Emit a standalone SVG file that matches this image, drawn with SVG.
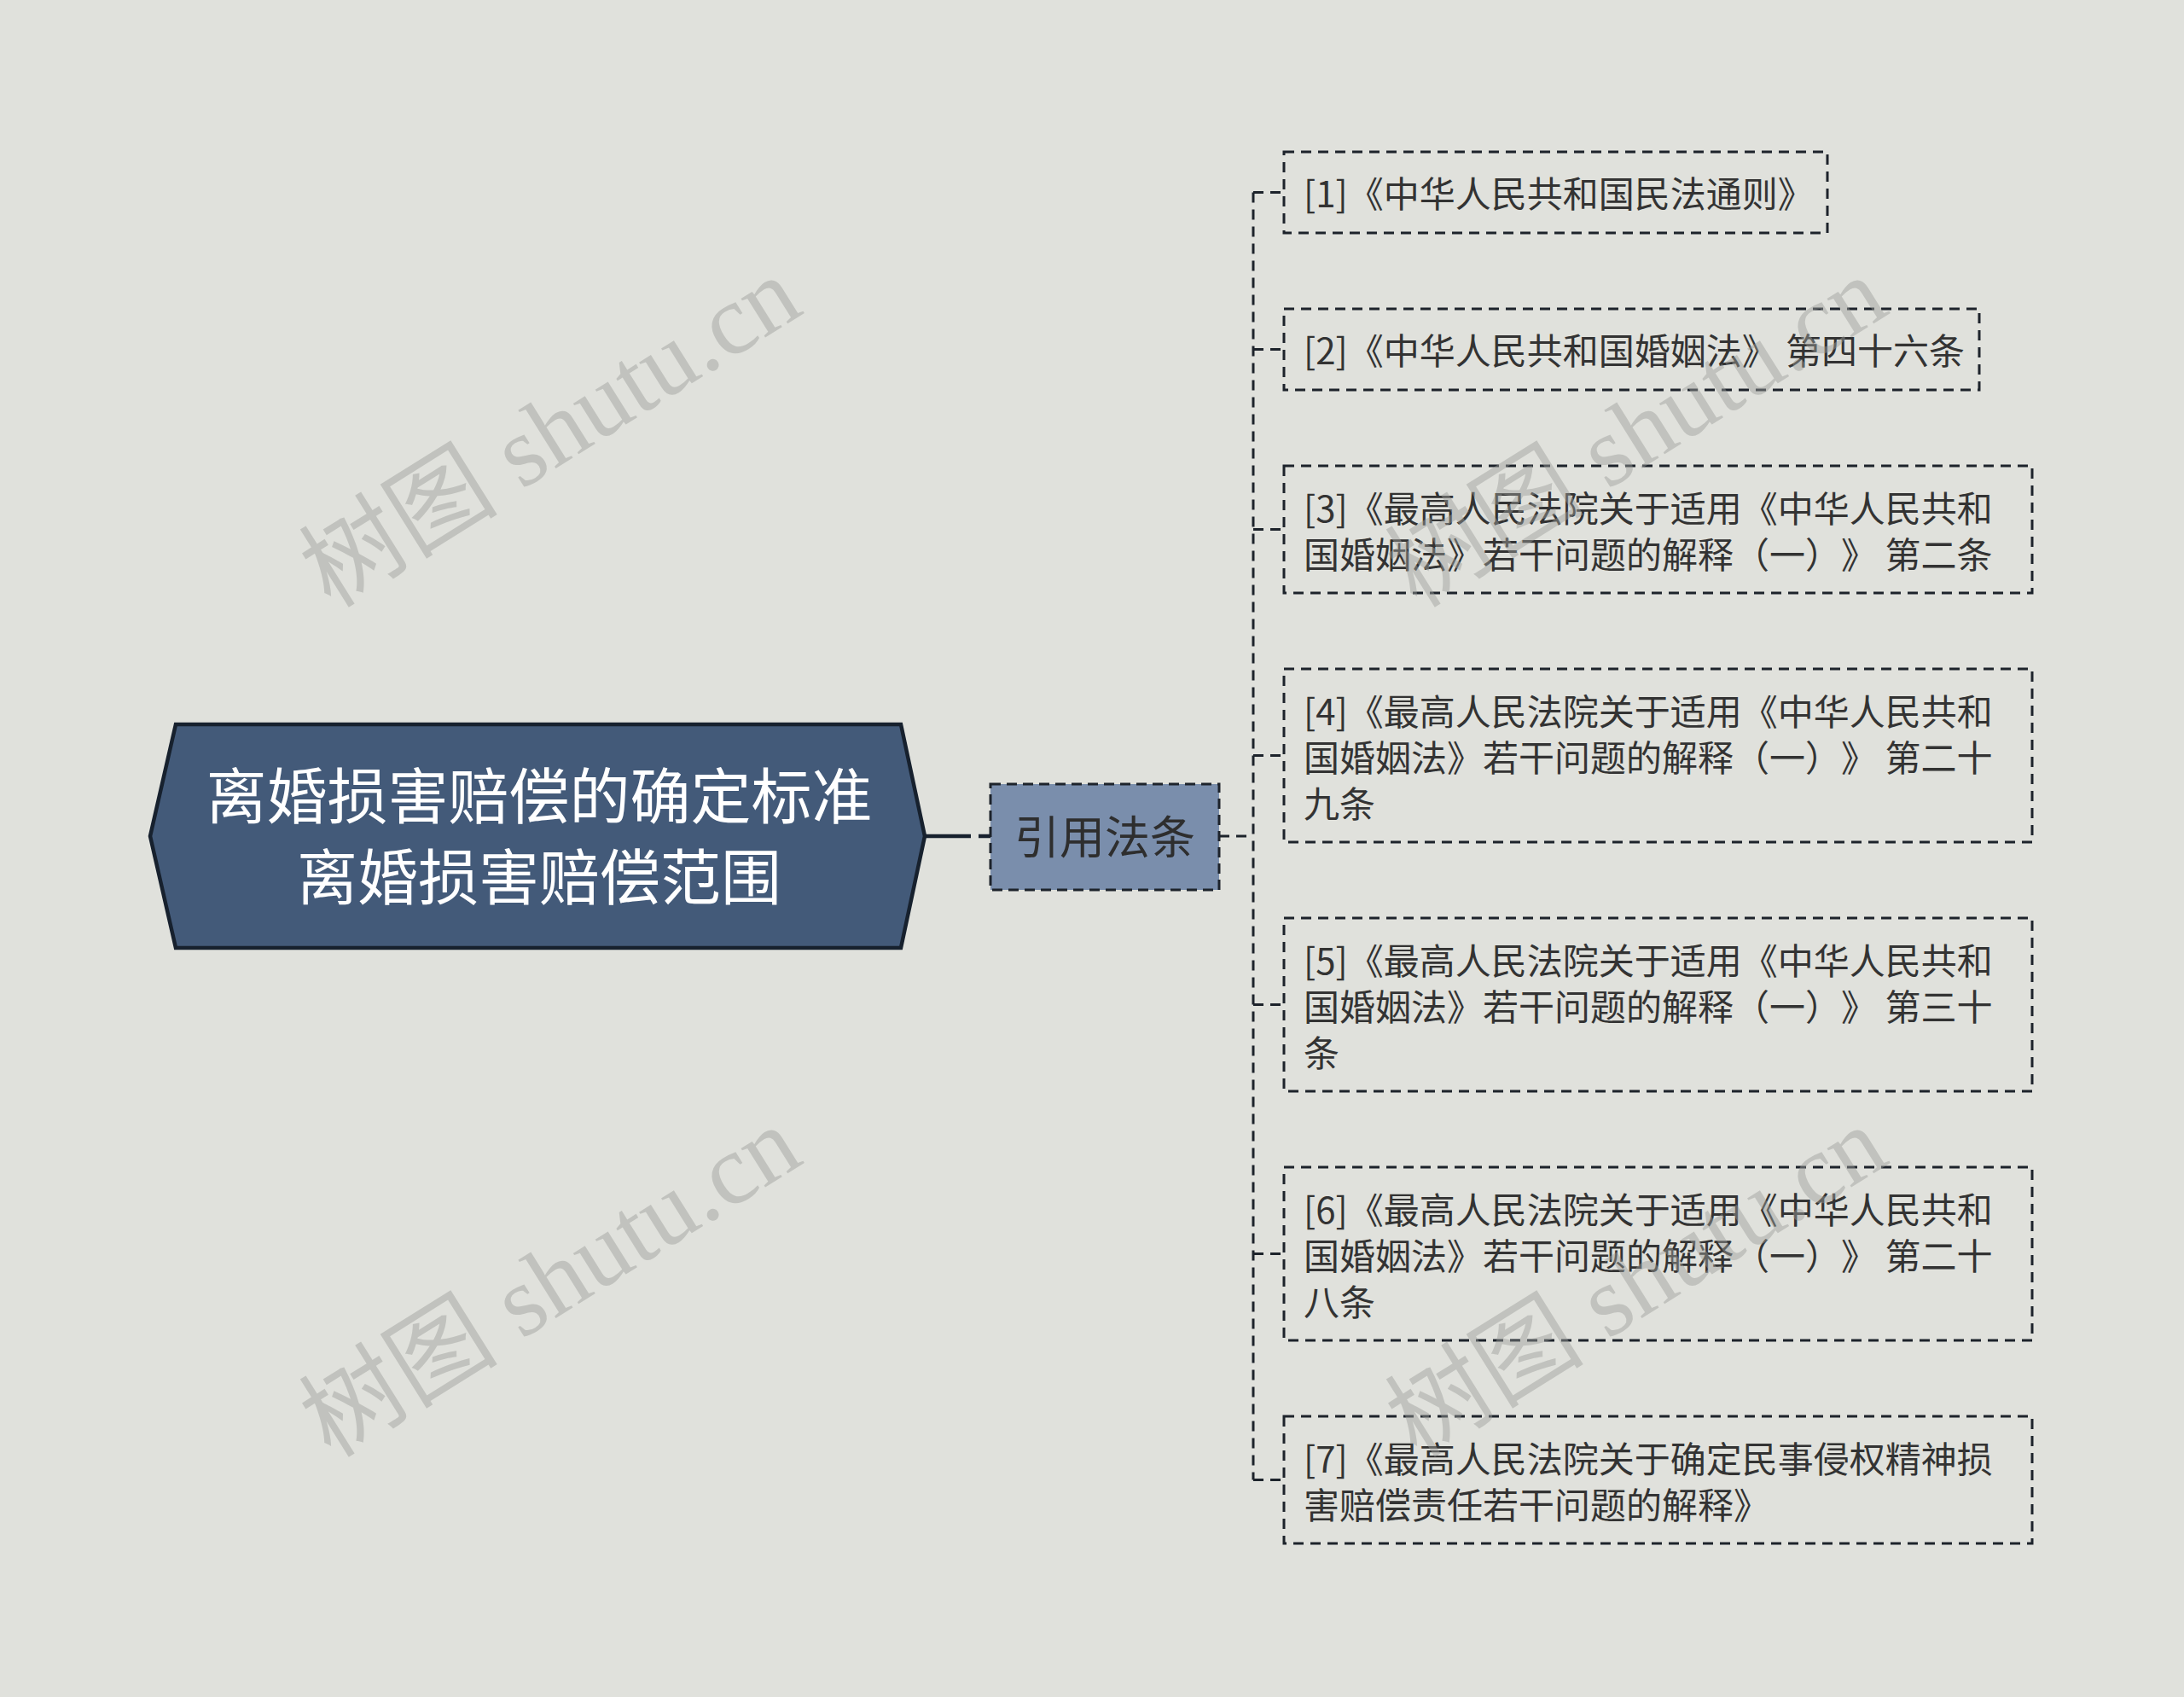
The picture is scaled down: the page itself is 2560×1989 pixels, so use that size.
<svg xmlns="http://www.w3.org/2000/svg" width="2560" height="1989" viewBox="0 0 2560 1989">
<style>
text{text-spacing-trim:space-all}
.bg{fill:#e0e1dc}
.root{fill:#435a79;stroke:#17212e;stroke-width:4.5}
.roott{font-family:"Noto Sans CJK SC","Noto Sans",sans-serif;font-size:71px;fill:#ffffff;text-anchor:middle}
.mid{fill:#7a8eac;stroke:#1d232b;stroke-width:3;stroke-dasharray:12 7}
.midt{font-family:"Noto Sans CJK SC","Noto Sans",sans-serif;font-size:53px;fill:#2e2e2e;text-anchor:middle}
.leaf{fill:none;stroke:#1d232b;stroke-width:3;stroke-dasharray:12 8}
.leaft{font-family:"Noto Sans CJK SC","Noto Sans",sans-serif;font-size:42px;fill:#333333}
.dash{fill:none;stroke:#1d232b;stroke-width:3;stroke-dasharray:12 8}
.solid{fill:none;stroke:#17212e;stroke-width:4.5}
.wm{font-family:"Liberation Serif","Noto Sans CJK SC",serif;font-size:117px;fill:#9c9e9a;opacity:0.45}
</style>
<rect class="bg" x="0" y="0" width="2560" height="1989"/>
<g id="connectors">
<path class="solid" d="M1085,980 H1138"/>
<path class="solid" d="M1147,980 H1161" stroke-width="3"/>
<path class="dash" d="M1429,980 H1469"/>
<path class="dash" d="M1469,225.5 V1734.5"/>
<path class="dash" d="M1469,225.5 H1505"/>
<path class="dash" d="M1469,409.5 H1505"/>
<path class="dash" d="M1469,620.5 H1505"/>
<path class="dash" d="M1469,885.5 H1505"/>
<path class="dash" d="M1469,1177.5 H1505"/>
<path class="dash" d="M1469,1469.5 H1505"/>
<path class="dash" d="M1469,1734.5 H1505"/>
</g>
<g id="root">
<polygon class="root" points="176,980 206,849 1056,849 1084,980 1056,1111 206,1111"/>
<text class="roott" x="632" y="959">离婚损害赔偿的确定标准</text>
<text class="roott" x="632" y="1054">离婚损害赔偿范围</text>
</g>
<g id="n_yinyong">
<rect class="mid" x="1161" y="919" width="268" height="124"/>
<text class="midt" x="1295" y="1001">引用法条</text>
</g>
<g id="n1">
<rect class="leaf" x="1505" y="178" width="637" height="95"/>
<text class="leaft" x="1528" y="243">[1]《中华人民共和国民法通则》</text>
</g>
<g id="n2">
<rect class="leaf" x="1505" y="362" width="815" height="95"/>
<text class="leaft" x="1528" y="427">[2]《中华人民共和国婚姻法》 第四十六条</text>
</g>
<g id="n3">
<rect class="leaf" x="1505" y="546" width="877" height="149"/>
<text class="leaft" x="1528" y="612">[3]《最高人民法院关于适用《中华人民共和</text>
<text class="leaft" x="1528" y="666">国婚姻法》若干问题的解释（一）》 第二条</text>
</g>
<g id="n4">
<rect class="leaf" x="1505" y="784" width="877" height="203"/>
<text class="leaft" x="1528" y="850">[4]《最高人民法院关于适用《中华人民共和</text>
<text class="leaft" x="1528" y="904">国婚姻法》若干问题的解释（一）》 第二十</text>
<text class="leaft" x="1528" y="958">九条</text>
</g>
<g id="n5">
<rect class="leaf" x="1505" y="1076" width="877" height="203"/>
<text class="leaft" x="1528" y="1142">[5]《最高人民法院关于适用《中华人民共和</text>
<text class="leaft" x="1528" y="1196">国婚姻法》若干问题的解释（一）》 第三十</text>
<text class="leaft" x="1528" y="1250">条</text>
</g>
<g id="n6">
<rect class="leaf" x="1505" y="1368" width="877" height="203"/>
<text class="leaft" x="1528" y="1434">[6]《最高人民法院关于适用《中华人民共和</text>
<text class="leaft" x="1528" y="1488">国婚姻法》若干问题的解释（一）》 第二十</text>
<text class="leaft" x="1528" y="1542">八条</text>
</g>
<g id="n7">
<rect class="leaf" x="1505" y="1660" width="877" height="149"/>
<text class="leaft" x="1528" y="1726">[7]《最高人民法院关于确定民事侵权精神损</text>
<text class="leaft" x="1528" y="1780">害赔偿责任若干问题的解释》</text>
</g>
<g id="watermarks">
<text class="wm" text-anchor="middle" transform="translate(666,540) rotate(-32)">树图 shutu.cn</text>
<text class="wm" text-anchor="middle" transform="translate(666,1536) rotate(-32)">树图 shutu.cn</text>
<text class="wm" text-anchor="middle" transform="translate(1939,540) rotate(-32)">树图 shutu.cn</text>
<text class="wm" text-anchor="middle" transform="translate(1939,1536) rotate(-32)">树图 shutu.cn</text>
</g>
</svg>
